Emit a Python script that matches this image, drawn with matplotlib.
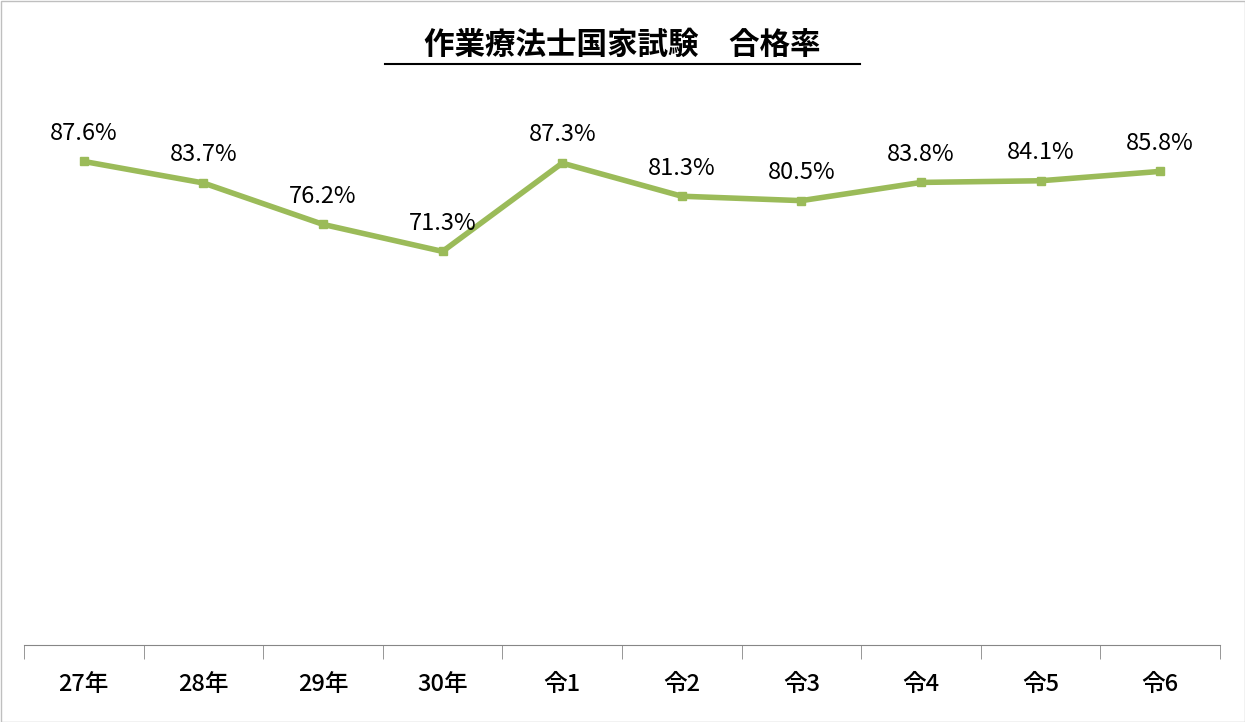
import matplotlib
matplotlib.use("Agg")
import matplotlib.pyplot as plt
from matplotlib.patches import Rectangle

plt.rcParams['font.family'] = ['Noto Sans CJK JP', 'DejaVu Sans']

categories = ["27年", "28年", "29年", "30年", "令1", "令2", "令3", "令4", "令5", "令6"]
rates = [87.6, 83.7, 76.2, 71.3, 87.3, 81.3, 80.5, 83.8, 84.1, 85.8]
title = "作業療法士国家試験　合格率"

W, H = 1245, 722
fig = plt.figure(figsize=(W/100, H/100), dpi=100)
fig.patches.append(Rectangle((0.5/W, 0.5/H), 1-1/W, 1-1/H, transform=fig.transFigure,
                             fill=False, edgecolor="#bfbfbf", linewidth=1))
ax = fig.add_axes([24/W, (H-645)/H, (1220-24)/W, (645-93)/H])
x = list(range(len(categories)))
ax.plot(x, rates, color="#9bbb59", linewidth=4, marker="s", markersize=6, solid_joinstyle="round")
for xi, v in zip(x, rates):
    ax.annotate(f"{v}%", (xi, v), xytext=(0, 12), textcoords="offset points",
                ha="center", va="bottom", fontsize=17)
ax.set_ylim(0, 100)
ax.set_xlim(-0.5, len(categories)-0.5)
ax.set_yticks([])
ax.set_xticks(x)
ax.set_xticklabels(categories, fontsize=17, weight="medium")
ax.tick_params(axis="x", which="major", length=0, pad=20)
ax.set_xticks([i-0.5 for i in range(len(categories)+1)], minor=True)
ax.tick_params(axis="x", which="minor", length=10, color="#868686")
for s in ["top", "right", "left"]:
    ax.spines[s].set_visible(False)
ax.spines["bottom"].set_color("#868686")
fig.text(0.5, (H-45)/H, title, ha="center", va="center", fontsize=22, weight="bold")
fig.add_artist(plt.Line2D([385/W, 860/W], [(H-64)/H]*2, color="black", linewidth=1.5))
fig.savefig("out.png", dpi=100)
